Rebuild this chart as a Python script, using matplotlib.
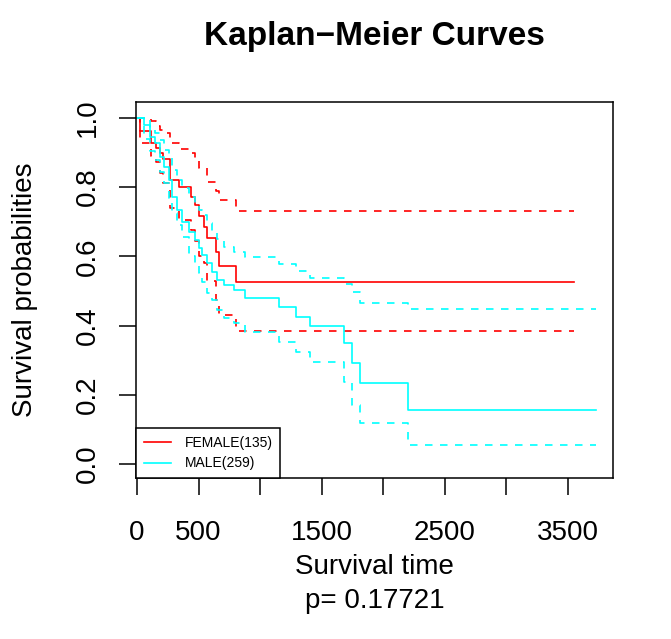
import numpy as np
import matplotlib
matplotlib.use("Agg")
import matplotlib.pyplot as plt

plt.rcParams['font.family'] = ['Liberation Sans', 'DejaVu Sans']

# FEMALE group: step times (days) and estimates after each step
female_times = [0, 25, 115, 155, 185, 215, 265, 345, 435, 475, 505, 545, 570, 640, 665, 807]
female_surv = [1.0, 0.962, 0.929, 0.912, 0.898, 0.881, 0.821, 0.800, 0.773, 0.749,
               0.717, 0.686, 0.652, 0.614, 0.573, 0.527]
female_upper = [1.0, 1.0, 0.99, 0.977, 0.966, 0.956, 0.927, 0.909, 0.900, 0.875,
                0.855, 0.855, 0.815, 0.79, 0.762, 0.732]
female_lower = [1.0, 0.927, 0.89, 0.874, 0.84, 0.812, 0.74, 0.705, 0.675, 0.645,
                0.60, 0.58, 0.53, 0.475, 0.431, 0.384]
female_end = 3545

# MALE group
male_times = [0, 54, 108, 149, 189, 216, 257, 284, 325, 366, 419, 474, 501, 528, 569,
              609, 650, 704, 785, 880, 1150, 1294, 1408, 1684, 1746, 1814, 2198]
male_surv = [1.0, 0.980, 0.946, 0.927, 0.888, 0.859, 0.821, 0.773, 0.734, 0.700, 0.671,
             0.647, 0.623, 0.604, 0.580, 0.556, 0.532, 0.517, 0.503, 0.479, 0.453,
             0.426, 0.400, 0.349, 0.293, 0.235, 0.156]
male_upper = [1.0, 1.0, 0.975, 0.956, 0.936, 0.908, 0.884, 0.850, 0.820, 0.797, 0.773,
              0.753, 0.735, 0.720, 0.696, 0.671, 0.650, 0.628, 0.614, 0.599, 0.578,
              0.559, 0.538, 0.519, 0.498, 0.466, 0.448]
male_lower = [1.0, 0.940, 0.905, 0.879, 0.845, 0.812, 0.77, 0.725, 0.690, 0.655, 0.600,
              0.575, 0.551, 0.527, 0.493, 0.474, 0.445, 0.421, 0.407, 0.382, 0.353,
              0.323, 0.296, 0.236, 0.171, 0.118, 0.055]
male_end = 3723

group_labels = ['FEMALE(135)', 'MALE(259)']
group_colors = ['#FF0000', '#00FFFF']
x_ticks = [0, 500, 1000, 1500, 2000, 2500, 3000, 3500]
x_ticklabels = ['0', '500', '', '1500', '', '2500', '', '3500']
y_ticks = [0.0, 0.2, 0.4, 0.6, 0.8, 1.0]
p_text = 'p= 0.17721'


def extend(times, vals, end):
    return list(times) + [end], list(vals) + [vals[-1]]


fig = plt.figure(figsize=(6.71, 6.39), dpi=100)
ax = fig.add_axes([136 / 671, 1 - 478 / 639, (613 - 136) / 671, (478 - 102) / 639])

groups = [
    (female_times, female_surv, female_upper, female_lower, female_end),
    (male_times, male_surv, male_upper, male_lower, male_end),
]
handles = []
for (t, s, up, lo, end), col, lab in zip(groups, group_colors, group_labels):
    tt, ss = extend(t, s, end)
    h, = ax.step(tt, ss, where='post', color=col, lw=1.2, label=lab)
    handles.append(h)
    for band in (up, lo):
        tt, bb = extend(t, band, end)
        ax.step(tt, bb, where='post', color=col, lw=1.2, linestyle=(0, (4.5, 4.5)))

ax.set_xlim(-8, 3865)
ax.set_ylim(-0.04, 1.046)
ax.set_xticks(x_ticks)
ax.set_xticklabels(x_ticklabels)
ax.set_yticks(y_ticks)
ax.set_yticklabels([f'{v:.1f}' for v in y_ticks], rotation=90, va='center')
ax.tick_params(axis='both', direction='out', length=12, width=1.1, labelsize=20)
ax.tick_params(axis='x', pad=18)
ax.tick_params(axis='y', pad=13)
for sp in ax.spines.values():
    sp.set_linewidth(1.1)

ax.set_xlabel('Survival time', fontsize=20, labelpad=6)
ax.set_ylabel('Survival probabilities', fontsize=20, labelpad=27)
fig.text(374.5 / 671, 1 - 601 / 639, p_text, fontsize=20, ha='center', va='center')
fig.suptitle('Kaplan\u2212Meier Curves', x=374.5 / 671, y=1 - 37 / 639,
             fontsize=24, fontweight='bold', va='center')

leg = ax.legend(handles=handles, loc='lower left', bbox_to_anchor=(0, 0),
                borderaxespad=0, fontsize=10, fancybox=False, framealpha=1,
                edgecolor='black', handlelength=2.0, handletextpad=0.95,
                labelspacing=0.45, borderpad=0.55)
leg.get_frame().set_linewidth(1.1)

fig.savefig('out.png', dpi=100)
